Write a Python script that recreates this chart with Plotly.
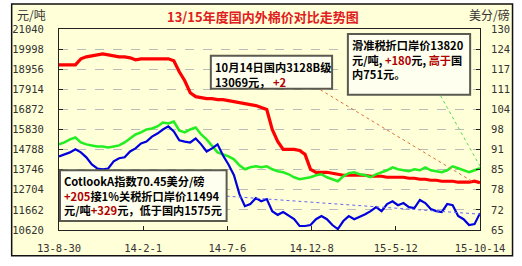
import numpy as np
import pandas as pd
import plotly.graph_objects as go

# ---------------- data ----------------
start_date, end_date = "2013-08-30", "2015-10-14"
xtick_dates = ["2013-08-30", "2014-02-01", "2014-07-06", "2014-12-08", "2015-05-12", "2015-10-14"]
xtick_labels = ["13-8-30", "14-2-1", "14-7-6", "14-12-8", "15-5-12", "15-10-14"]
left_tick_labels = ["10620", "11662", "12704", "13746", "14788", "15830",
                    "16872", "17914", "18956", "19998", "21040"]
right_tick_labels = ["65", "72", "78", "85", "91", "98", "104", "111", "117", "124", "130"]

# 国内3128B级 (元/吨)
domestic = [19183, 19183, 19183, 19183, 19493, 19596, 19647, 19699, 19750, 19699,
            19647, 19596, 19596, 19544, 19441, 19493, 19493, 19493, 19493, 19493,
            19493, 19390, 18822, 18358, 17739, 17533, 17481, 17429, 17429, 17378,
            17378, 17326, 17275, 17223, 17172, 17120, 17068, 16965, 16862, 15830,
            15211, 14799, 14799, 14799, 14747, 14541, 13767, 13612, 13612, 13612,
            13561, 13509, 13458, 13458, 13458, 13458, 13458, 13406, 13406, 13406,
            13355, 13355, 13355, 13355, 13303, 13303, 13251, 13251, 13200, 13200,
            13148, 13148, 13148, 13097, 13097, 13097, 13148, 13069]
# 滑准税折口岸价 (元/吨)
sliding_tax = [15057, 15160, 15315, 15418, 15160, 15057, 15005, 14954, 14954, 14902,
               14954, 15005, 15160, 15366, 15572, 15676, 15830, 15882, 15985, 16192,
               16140, 16243, 15779, 15676, 15830, 15934, 15572, 15315, 14954, 14644,
               14541, 14438, 14283, 13974, 13767, 13870, 13922, 13870, 13922, 13767,
               13664, 13612, 13509, 13355, 13251, 13303, 13355, 13458, 13509, 13355,
               13251, 13148, 13406, 13561, 13612, 13509, 13458, 13355, 13509, 13612,
               13716, 13870, 13767, 13716, 13664, 13767, 13716, 13870, 13716, 13664,
               13612, 13716, 13922, 13819, 13716, 13612, 13716, 13820]
# Cotlook A 指数 (美分/磅)
cotlook = [88.8, 89.5, 90.1, 91.1, 90.1, 88.5, 86.2, 84.9, 84.6, 84.9,
           87.2, 88.2, 88.5, 90.4, 91.4, 93.0, 93.6, 95.2, 96.2, 97.5,
           98.5, 96.9, 94.0, 93.6, 93.3, 94.6, 92.7, 90.4, 91.4, 92.7,
           89.1, 86.2, 82.7, 76.6, 72.7, 73.4, 75.3, 74.3, 75.0, 71.1,
           69.9, 70.8, 69.5, 68.5, 66.3, 66.3, 66.6, 68.5, 69.5, 68.5,
           66.6, 65.3, 67.9, 69.5, 68.5, 69.2, 70.1, 71.1, 72.4, 71.1,
           73.4, 74.3, 73.0, 73.7, 72.4, 72.1, 74.7, 73.7, 71.8, 71.1,
           70.8, 73.4, 73.0, 69.5, 68.5, 66.6, 66.9, 70.45]

dates = pd.date_range(start_date, end_date, periods=len(domestic))

# ---------------- geometry helpers ----------------
W, H = 522, 266
L, R, T, B = 53, 480, 29, 231
def px(x):
    return (x - L) / (R - L)
def py(y):
    return (B - y) / (B - T)

yl = [int(s) for s in left_tick_labels]
ymin, ymax = yl[0], yl[-1]
y2min, y2max = float(right_tick_labels[0]), float(right_tick_labels[-1])
y2vals = list(np.linspace(y2min, y2max, len(right_tick_labels)))

t0 = pd.Timestamp(start_date); t1 = pd.Timestamp(end_date)
def dx(d):
    return (pd.Timestamp(d) - t0) / (t1 - t0)
def dy(v):
    return (v - ymin) / (ymax - ymin)
def dy2(v):
    return (v - y2min) / (y2max - y2min)

CREAM = "#FFFFD8"
TICKFONT = dict(family="DejaVu Sans Mono", size=10.5, color="#333333")

fig = go.Figure()
fig.add_trace(go.Scatter(x=dates, y=domestic, mode="lines",
                         line=dict(color="#FF0000", width=3.2), yaxis="y"))
fig.add_trace(go.Scatter(x=dates, y=sliding_tax, mode="lines",
                         line=dict(color="#22EE22", width=2.5), yaxis="y"))
fig.add_trace(go.Scatter(x=dates, y=cotlook, mode="lines",
                         line=dict(color="#0000DD", width=2.2), yaxis="y2"))

shapes = [
    # outer frame
    dict(type="rect", xref="paper", yref="paper", x0=px(5), x1=px(513), y0=py(257), y1=py(4),
         fillcolor=CREAM, line=dict(color="#111111", width=1.5), layer="below"),
    # leader lines
    dict(type="line", xref="paper", yref="paper", x0=px(318), y0=py(90),
         x1=dx(dates[-2]), y1=dy(domestic[-1]), line=dict(color="#E07040", width=1, dash="dot")),
    dict(type="line", xref="paper", yref="paper", x0=px(440), y0=py(96),
         x1=dx(dates[-1]), y1=dy(sliding_tax[-1]) + 0.01, line=dict(color="#55DD55", width=1, dash="dot")),
    dict(type="line", xref="paper", yref="paper", x0=px(223), y0=py(197),
         x1=dx(dates[-1]), y1=dy2(cotlook[-1]) - 0.005, line=dict(color="#6666EE", width=1, dash="dot")),
    # text boxes
    dict(type="rect", xref="paper", yref="paper", x0=px(207), x1=px(330), y0=py(89), y1=py(56),
         fillcolor="#FFFFF0", line=dict(color="#5A5A50", width=2)),
    dict(type="rect", xref="paper", yref="paper", x0=px(346), x1=px(470), y0=py(95), y1=py(34),
         fillcolor="#FFFFF0", line=dict(color="#5A5A50", width=2)),
    dict(type="rect", xref="paper", yref="paper", x0=px(54), x1=px(223), y0=py(222), y1=py(171),
         fillcolor="#FFFFF0", line=dict(color="#5A5A50", width=2)),
]

RED = "#B00000"
BOXFONT = dict(family="Noto Sans CJK SC", size=11.2, color="#000000")
annotations = [
    dict(text="13/15年度国内外棉价对比走势图", xref="paper", yref="paper", x=px(260), y=py(16),
         xanchor="center", yanchor="middle", showarrow=False,
         font=dict(family="Noto Sans CJK SC", size=13, color="#E02020", weight="bold")),
    dict(text="元/吨", xref="paper", yref="paper", x=px(8), y=py(14), xanchor="left", yanchor="middle",
         showarrow=False, font=dict(family="Noto Sans CJK SC", size=12, color="#333333")),
    dict(text="美分/磅", xref="paper", yref="paper", x=px(512), y=py(14), xanchor="right", yanchor="middle",
         showarrow=False, font=dict(family="Noto Sans CJK SC", size=12, color="#333333")),
    dict(text="<b>10月14日国内3128B级<br>13069元， <span style='color:%s'>+2</span></b>" % RED,
         xref="paper", yref="paper", x=px(209), y=py(57), xanchor="left", yanchor="top",
         align="left", showarrow=False, font=BOXFONT),
    dict(text=("<b>滑准税折口岸价13820<br>元/吨, <span style='color:%s'>+180</span>元, "
               "<span style='color:%s'>高于</span>国<br>内751元。</b>") % (RED, RED),
         xref="paper", yref="paper", x=px(348), y=py(35), xanchor="left", yanchor="top",
         align="left", showarrow=False, font=BOXFONT),
    dict(text=("<b>CotlookA指数70.45美分/磅<br><span style='color:%s'>+205</span>接1%%关税折口岸价11494<br>"
               "元/吨<span style='color:%s'>+329</span>元，低于国内1575元</b>") % (RED, RED),
         xref="paper", yref="paper", x=px(56), y=py(172), xanchor="left", yanchor="top",
         align="left", showarrow=False, font=BOXFONT),
]

fig.update_layout(
    width=W, height=H, autosize=False,
    margin=dict(l=L, r=W - R, t=T, b=H - B, pad=0),
    paper_bgcolor="#FFFFFF", plot_bgcolor=CREAM,
    showlegend=False,
    xaxis=dict(type="date", range=[start_date, end_date],
               tickvals=xtick_dates, ticktext=xtick_labels,
               showgrid=False, zeroline=False,
               showline=True, linecolor="#222222", linewidth=1, mirror=True,
               ticks="inside", ticklen=4, tickcolor="#222222",
               tickfont=TICKFONT, ticklabelstandoff=8),
    yaxis=dict(range=[ymin, ymax], tickvals=yl, ticktext=left_tick_labels,
               showgrid=True, gridcolor="#BBBBBB", griddash="dash", gridwidth=1,
               zeroline=False, showline=True, linecolor="#222222", linewidth=1,
               ticks="inside", ticklen=4, tickcolor="#222222",
               tickfont=TICKFONT, ticklabelstandoff=12),
    yaxis2=dict(range=[y2min, y2max], tickvals=y2vals, ticktext=right_tick_labels,
                overlaying="y", side="right", showgrid=False, zeroline=False,
                showline=True, linecolor="#222222", linewidth=1,
                ticks="inside", ticklen=4, tickcolor="#222222",
                tickfont=TICKFONT, ticklabelstandoff=8),
    shapes=shapes, annotations=annotations,
)

fig.write_html("out.html")
